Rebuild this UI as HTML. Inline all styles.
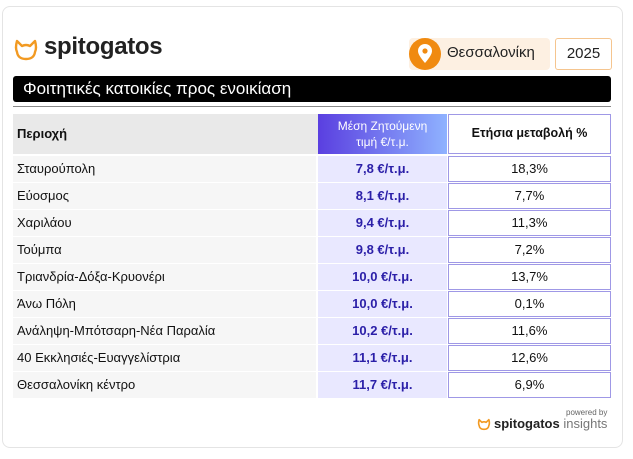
<!DOCTYPE html>
<html><head><meta charset="utf-8"><style>
body{margin:0;width:633px;height:459px;background:#fff;font-family:"Liberation Sans","DejaVu Sans",sans-serif;position:relative;overflow:hidden}
.card{position:absolute;left:2px;top:6px;width:619px;height:440px;border:1px solid #e4e4e4;border-radius:8px}
.abs{position:absolute}
.row{position:absolute;left:13px;width:598px;height:26px;font-size:13px;color:#111}
.row .a{position:absolute;left:0;top:0;width:303px;height:26px;background:#f6f6f6;line-height:26px;padding-left:4px;box-sizing:border-box}
.row .b{position:absolute;left:305px;top:0;width:129px;height:26px;background:#e9e8ff;line-height:26px;text-align:center;color:#2b1fa8;font-weight:bold}
.row .c{position:absolute;left:435px;top:0;width:163px;height:26px;border:1.5px solid #9f98e6;box-sizing:border-box;line-height:23px;text-align:center;color:#111}
</style></head><body>
<div class="card"></div>
<svg class="abs" style="left:13px;top:38px" width="26" height="24" viewBox="0 0 26 24"><path d="M4 3 L9 8 Q13 6 17 8 L22 3 Q24 10 22 14 Q21 21 13 21 Q5 21 4 14 Q2 10 4 3Z" fill="none" stroke="#f29a22" stroke-width="2.4" stroke-linejoin="round"/></svg>
<div class="abs" style="left:44px;top:33px;font-size:24px;font-weight:bold;color:#222;letter-spacing:-0.3px">spitogatos</div>
<div class="abs" style="left:409px;top:38px;width:141px;height:32px;background:#fdf0e2;border-radius:4px"></div>
<div class="abs" style="left:409px;top:38px;width:32px;height:32px;border-radius:50%;background:#f08a10"></div>
<svg class="abs" style="left:417px;top:44px" width="16" height="20" viewBox="0 0 16 20"><path d="M8 19 Q1 11 1 7 A7 7 0 0 1 15 7 Q15 11 8 19Z" fill="#fff"/><circle cx="8" cy="7" r="2.6" fill="#f08a10"/></svg>
<div class="abs" style="left:447px;top:44px;font-size:15px;color:#222">Θεσσαλονίκη</div>
<div class="abs" style="left:555px;top:38px;width:57px;height:32px;border:1.5px solid #f5c58f;box-sizing:border-box;border-radius:3px;text-align:center;line-height:29px;font-size:15px;color:#222">2025</div>
<div class="abs" style="left:13px;top:76px;width:598px;height:26px;background:#000;border-radius:3px;color:#fff;font-size:17px;line-height:26px;padding-left:10px;box-sizing:border-box">Φοιτητικές κατοικίες προς ενοικίαση</div>
<div class="abs" style="left:13px;top:106px;width:598px;height:1px;background:#888"></div>
<div class="abs" style="left:13px;top:114px;width:305px;height:40px;background:#e9e9e9;font-weight:bold;font-size:13px;line-height:40px;padding-left:4px;box-sizing:border-box;color:#111">Περιοχή</div>
<div class="abs" style="left:318px;top:114px;width:129px;height:40px;background:linear-gradient(90deg,#5a3fe0,#8fb2ff);color:#fff;font-size:12px;text-align:center;line-height:16px;padding-top:4px;box-sizing:border-box">Μέση Ζητούμενη<br>τιμή €/τ.μ.</div>
<div class="abs" style="left:448px;top:114px;width:163px;height:40px;border:1.5px solid #9f98e6;box-sizing:border-box;font-weight:bold;font-size:12.5px;text-align:center;line-height:37px;color:#111">Ετήσια μεταβολή %</div>
<div class="row" style="top:156px"><div class="a">Σταυρούπολη</div><div class="b">7,8 €/τ.μ.</div><div class="c">18,3%</div></div>
<div class="row" style="top:183px"><div class="a">Εύοσμος</div><div class="b">8,1 €/τ.μ.</div><div class="c">7,7%</div></div>
<div class="row" style="top:210px"><div class="a">Χαριλάου</div><div class="b">9,4 €/τ.μ.</div><div class="c">11,3%</div></div>
<div class="row" style="top:237px"><div class="a">Τούμπα</div><div class="b">9,8 €/τ.μ.</div><div class="c">7,2%</div></div>
<div class="row" style="top:264px"><div class="a">Τριανδρία-Δόξα-Κρυονέρι</div><div class="b">10,0 €/τ.μ.</div><div class="c">13,7%</div></div>
<div class="row" style="top:291px"><div class="a">Άνω Πόλη</div><div class="b">10,0 €/τ.μ.</div><div class="c">0,1%</div></div>
<div class="row" style="top:318px"><div class="a">Ανάληψη-Μπότσαρη-Νέα Παραλία</div><div class="b">10,2 €/τ.μ.</div><div class="c">11,6%</div></div>
<div class="row" style="top:345px"><div class="a">40 Εκκλησιές-Ευαγγελίστρια</div><div class="b">11,1 €/τ.μ.</div><div class="c">12,6%</div></div>
<div class="row" style="top:372px"><div class="a">Θεσσαλονίκη κέντρο</div><div class="b">11,7 €/τ.μ.</div><div class="c">6,9%</div></div>
<div class="abs" style="left:566px;top:408px;font-size:8px;color:#666">powered by</div>
<svg class="abs" style="left:477px;top:418px" width="14" height="13" viewBox="0 0 26 24"><path d="M4 3 L9 8 Q13 6 17 8 L22 3 Q24 10 22 14 Q21 21 13 21 Q5 21 4 14 Q2 10 4 3Z" fill="none" stroke="#f29a22" stroke-width="3" stroke-linejoin="round"/></svg>
<div class="abs" style="left:494px;top:416px;font-size:13px;color:#222"><b>spitogatos</b><span style="color:#777"> insights</span></div>
</body></html>
